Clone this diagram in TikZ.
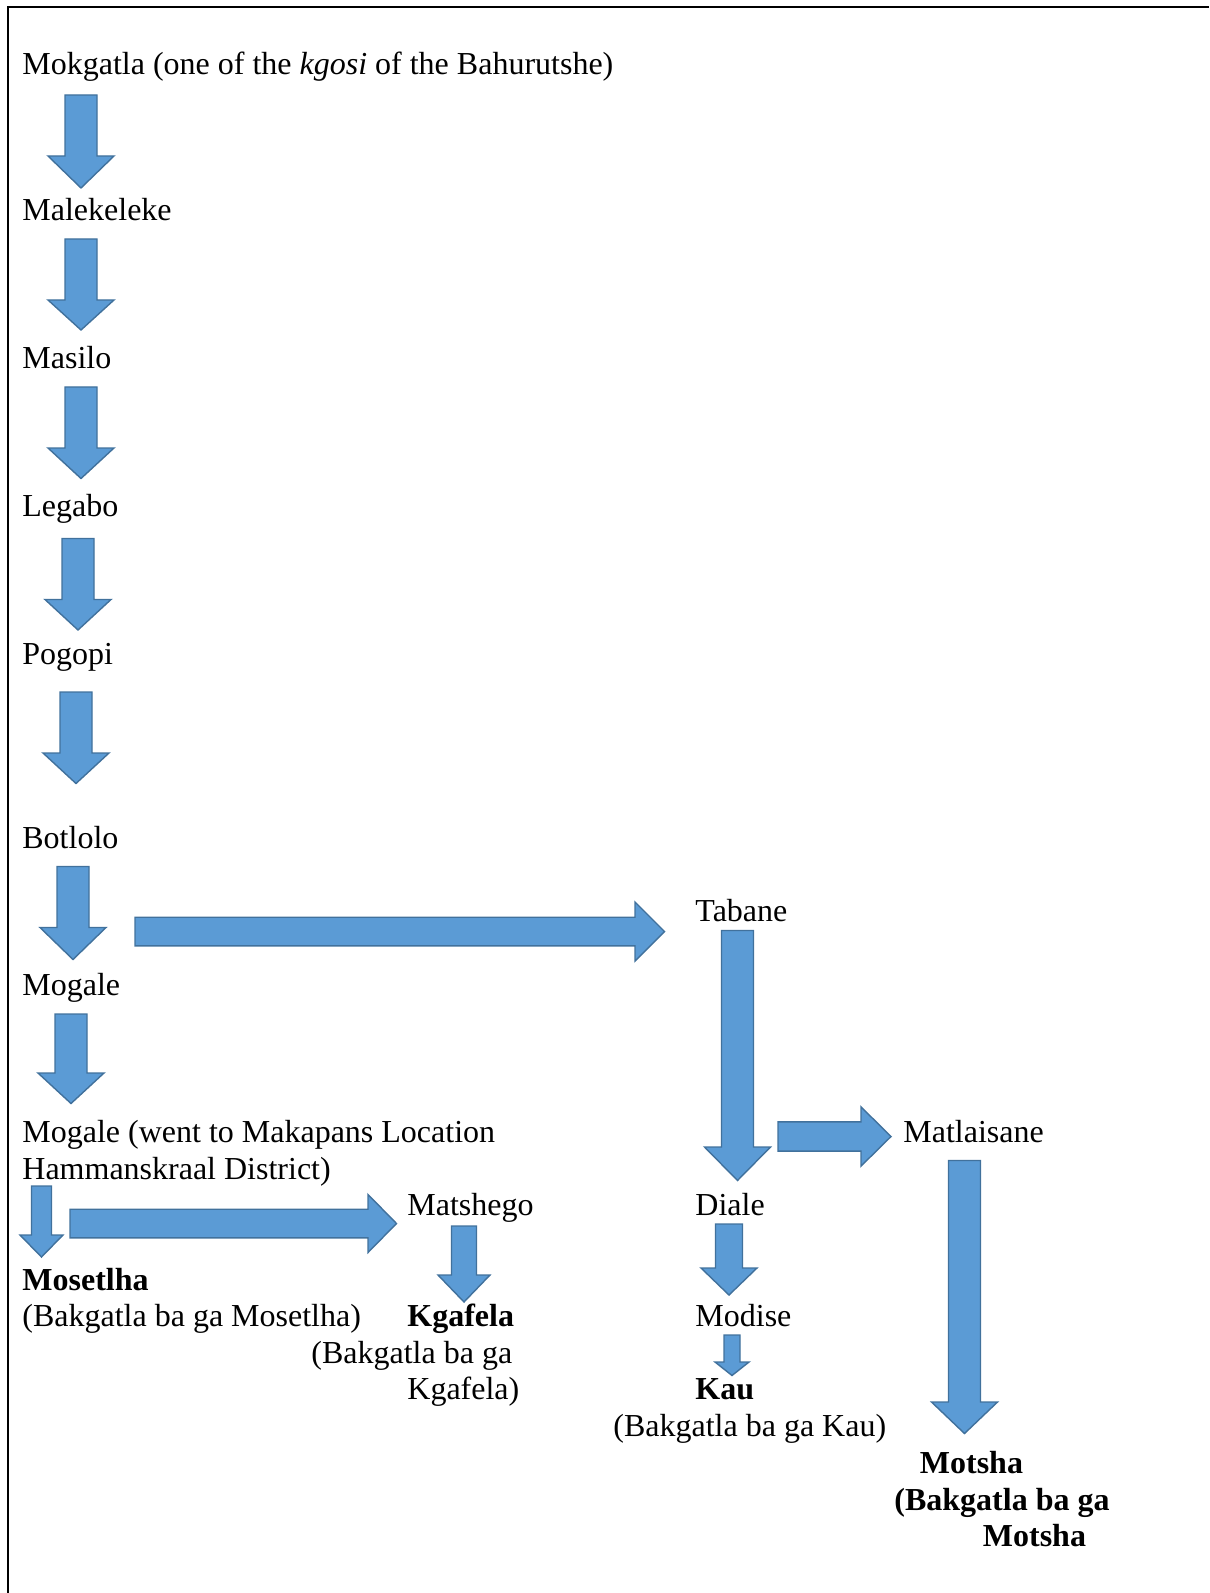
\documentclass[tikz,border=0pt]{standalone}
\usepackage{fontspec}
\setmainfont{Liberation Serif}
\definecolor{arrfill}{HTML}{5B9BD5}
\definecolor{arredge}{HTML}{41719C}
\tikzset{
  blockarr/.style={fill=arrfill,draw=arredge,line width=0.7pt},
  lbl/.style={anchor=base west,inner sep=0pt,font=\fontsize{16pt}{18.3pt}\selectfont},
}
% block arrow pointing down: x, top, head base, tip, shaft half width, head half width
\newcommand{\dnarrow}[6]{\draw[blockarr] (#1-#5,#2) -- (#1+#5,#2) -- (#1+#5,#3) -- (#1+#6,#3) -- (#1,#4) -- (#1-#6,#3) -- (#1-#5,#3) -- cycle;}
% block arrow pointing right: y, left, head base, tip, shaft half width, head half width
\newcommand{\rtarrow}[6]{\draw[blockarr] (#2,#1-#5) -- (#3,#1-#5) -- (#3,#1-#6) -- (#4,#1) -- (#3,#1+#6) -- (#3,#1+#5) -- (#2,#1+#5) -- cycle;}

\begin{document}
\begin{tikzpicture}[x=0.5pt,y=-0.5pt]
\useasboundingbox (0,0) rectangle (1209,1593);
\draw [line width=1.2pt] (8,1593) -- (8,7) -- (1209,7);

% main line
\node[lbl] (mokgatla) at (22,74.5) {Mokgatla (one of the \textit{kgosi} of the Bahurutshe)};
\node[lbl] (malekeleke) at (22,221) {Malekeleke};
\node[lbl] (masilo) at (22,369) {Masilo};
\node[lbl] (legabo) at (22,516.5) {Legabo};
\node[lbl] (pogopi) at (22,664) {Pogopi};
\node[lbl] (botlolo) at (22,848) {Botlolo};
\node[lbl] (mogale) at (22,995) {Mogale};
\node[lbl] (mogaleb) at (22,1142) {Mogale (went to Makapans Location};
\node[lbl] (hammanskraal) at (22,1179) {Hammanskraal District)};
\node[lbl] (mosetlha) at (22,1290) {\textbf{Mosetlha}};
\node[lbl] (mosetlhab) at (22,1326) {(Bakgatla ba ga Mosetlha)};
\node[lbl] (matshego) at (407,1215.5) {Matshego};
\node[lbl] (kgafela) at (407,1326) {\textbf{Kgafela}};
\node[lbl] (kgafelab) at (311,1363) {(Bakgatla ba ga};
\node[lbl] (kgafelac) at (407,1399.5) {Kgafela)};

% Tabane line
\node[lbl] (tabane) at (695,921) {Tabane};
\node[lbl] (matlaisane) at (903,1142) {Matlaisane};
\node[lbl] (diale) at (695,1215.5) {Diale};
\node[lbl] (modise) at (695,1326) {Modise};
\node[lbl] (kau) at (695,1399.5) {\textbf{Kau}};
\node[lbl] (kaub) at (613,1436) {(Bakgatla ba ga Kau)};
\node[lbl] (motsha) at (919.5,1473.5) {\textbf{Motsha}};
\node[lbl] (motshab) at (894,1510) {\textbf{(Bakgatla ba ga}};
\node[lbl] (motshac) at (982.5,1546.7) {\textbf{Motsha}};

% arrows
\dnarrow{81}{95}{156}{188}{16}{33}
\dnarrow{81}{239}{300}{330}{16}{33}
\dnarrow{81}{387}{448}{478.5}{16}{33}
\dnarrow{78}{538.5}{599.5}{630}{16}{33}
\dnarrow{76}{692}{753}{783.5}{16}{33}
\dnarrow{73}{866.5}{927.5}{959.5}{16}{33}
\dnarrow{71}{1014}{1073}{1103.5}{16}{33}
\dnarrow{41.5}{1186}{1235}{1257}{10}{21.5}
\dnarrow{464}{1226}{1275}{1302}{12.5}{26}
\dnarrow{737.5}{930.5}{1147}{1180.5}{16}{33}
\dnarrow{729}{1224}{1268}{1295}{13.5}{28}
\dnarrow{732}{1335}{1362}{1375.5}{8}{17}
\dnarrow{964.5}{1160.5}{1402}{1433.5}{16}{33}
\rtarrow{931.5}{135}{635}{664.5}{14.3}{29.5}
\rtarrow{1136.5}{778}{861}{891}{14.6}{29.6}
\rtarrow{1223.5}{70}{368}{396.5}{14.3}{29}
\end{tikzpicture}
\end{document}
